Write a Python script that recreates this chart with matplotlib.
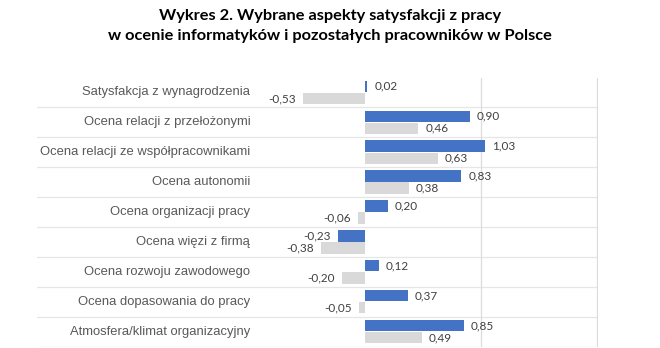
import numpy as np
import matplotlib
matplotlib.use("Agg")
import matplotlib.pyplot as plt

# aspekty satysfakcji (od gory do dolu)
kategorie = [
    "Satysfakcja z wynagrodzenia",
    "Ocena relacji z przełożonymi",
    "Ocena relacji ze współpracownikami",
    "Ocena autonomii",
    "Ocena organizacji pracy",
    "Ocena więzi z firmą",
    "Ocena rozwoju zawodowego",
    "Ocena dopasowania do pracy",
    "Atmosfera/klimat organizacyjny",
]
informatycy = [0.02, 0.90, 1.03, 0.83, 0.20, -0.23, 0.12, 0.37, 0.85]
pozostali = [-0.53, 0.46, 0.63, 0.38, -0.06, -0.38, -0.20, -0.05, 0.49]

tytul = ("Wykres 2. Wybrane aspekty satysfakcji z pracy\n"
         "w ocenie informatyków i pozostałych pracowników w Polsce")

NIEBIESKI = "#4472C4"
SZARY = "#D9D9D9"


def fmt(v):
    # przecinek dziesietny jak w polskich raportach
    return f"{v:.2f}".replace(".", ",")


fig = plt.figure(figsize=(6.6, 3.48), dpi=100)
ax = fig.add_axes([37 / 660, 1.5 / 348, (598 - 37) / 660, 269 / 348])

y = np.arange(len(kategorie))
h = 0.385
ax.barh(y - h / 2 - 0.01, informatycy, height=h, color=NIEBIESKI, zorder=3)
ax.barh(y + h / 2 + 0.01, pozostali, height=h, color=SZARY, zorder=3)

ax.set_xlim(-2.82, 2.005)
ax.set_ylim(len(kategorie) - 0.5, -0.5)

# linie oddzielajace kategorie i pionowe linie siatki
for i in range(len(kategorie)):
    ax.axhline(i + 0.5, color="#E6E6E6", lw=0.9, zorder=1)
for gx in [1, 2]:
    ax.axvline(gx, color="#DCDCDC", lw=0.9, zorder=1)

# opisy kategorii po lewej stronie
for i, k in enumerate(kategorie):
    ax.text(-0.985, i, k, ha="right", va="center", fontsize=9.4,
            family="Liberation Sans", color="#595959")

# wartosci przy slupkach
for serie, dy in [(informatycy, -h / 2 - 0.01), (pozostali, h / 2 + 0.01)]:
    for i, v in enumerate(serie):
        off = 5 if v >= 0 else -5
        ax.annotate(fmt(v), (v, i + dy), xytext=(off, 0),
                    textcoords="offset points",
                    ha="left" if v >= 0 else "right", va="center",
                    fontsize=8.5, family="Lato", color="#404040")

ax.set_xticks([])
ax.set_yticks([])
for s in ax.spines.values():
    s.set_visible(False)

fig.text(0.5, 1 - 26 / 348, tytul, ha="center", va="center",
         fontsize=11.8, fontweight="bold", family="Lato",
         linespacing=1.62, color="black")

fig.savefig("out.png", dpi=100)
